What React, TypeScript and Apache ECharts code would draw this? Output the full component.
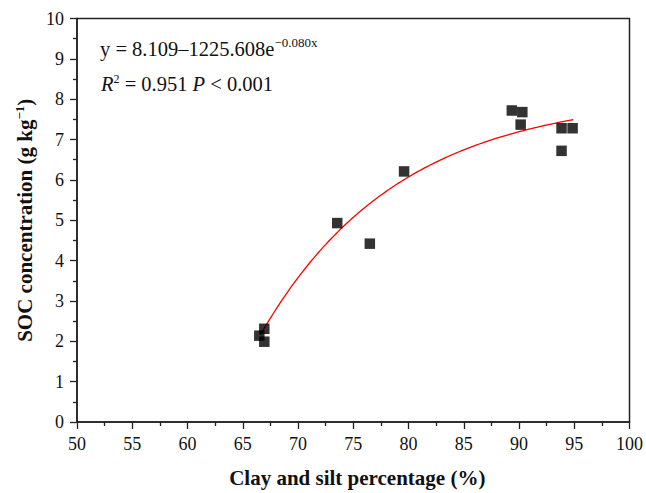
import React, { useEffect, useRef } from "react";
import * as echarts from "echarts";

const clayPct = [66.5, 66.95, 66.95, 73.55, 76.5, 79.6, 89.35, 90.3, 90.15, 93.85, 94.85, 93.85];
const socConc = [2.14, 2.31, 1.99, 4.93, 4.42, 6.21, 7.72, 7.68, 7.37, 7.28, 7.28, 6.72];

// fitted model shown on the chart: y = a - b * exp(c * x)
const fitA = 8.109;
const fitB = 1225.608;
const fitC = -0.08;
const fitXStart = 66.6;
const fitXEnd = 94.9;

const xTicks = [50, 55, 60, 65, 70, 75, 80, 85, 90, 95, 100];
const yTicks = [0, 1, 2, 3, 4, 5, 6, 7, 8, 9, 10];

const FONT = "Liberation Serif";

export default function App() {
  const ref = useRef<HTMLDivElement>(null);
  useEffect(() => {
    if (!ref.current) return;
    const chart = echarts.init(ref.current, null, { renderer: "svg" });
    const fitLine: number[][] = [];
    const steps = 120;
    for (let i = 0; i <= steps; i++) {
      const x = fitXStart + ((fitXEnd - fitXStart) * i) / steps;
      fitLine.push([x, fitA - fitB * Math.exp(fitC * x)]);
    }
    const axisColor = "#222";
    chart.setOption({
      animation: false,
      backgroundColor: "#fff",
      grid: {
        left: 77,
        right: 15,
        top: 18.5,
        bottom: 68,
        show: true,
        borderColor: axisColor,
        borderWidth: 1.5,
      },
      xAxis: {
        type: "value",
        min: xTicks[0],
        max: xTicks[xTicks.length - 1],
        interval: 5,
        name: "Clay and silt percentage (%)",
        nameLocation: "middle",
        nameGap: 45,
        nameTextStyle: { fontFamily: FONT, fontWeight: "bold", fontSize: 21, color: "#111", padding: [0, 0, 0, 8] },
        axisLine: { show: true, lineStyle: { color: axisColor, width: 1.5 } },
        axisTick: { show: true, inside: false, length: 7, lineStyle: { color: axisColor, width: 1.3 } },
        minorTick: { show: true, splitNumber: 2, length: 4, lineStyle: { color: axisColor, width: 1.3 } },
        axisLabel: { fontFamily: FONT, fontSize: 18, color: "#111", margin: 13 },
        splitLine: { show: false },
      },
      yAxis: {
        type: "value",
        min: yTicks[0],
        max: yTicks[yTicks.length - 1],
        interval: 1,
        name: "{t|SOC concentration (g kg}{s|−1}{t|)}",
        nameLocation: "middle",
        nameGap: 36,
        nameRotate: 90,
        nameTextStyle: {
          rich: {
            t: { fontFamily: FONT, fontWeight: "bold", fontSize: 21, color: "#111", verticalAlign: "bottom" },
            s: { fontFamily: FONT, fontWeight: "bold", fontSize: 13, color: "#111", verticalAlign: "bottom", padding: [0, 0, 9, 0] },
          },
        },
        axisLine: { show: true, lineStyle: { color: axisColor, width: 1.5 } },
        axisTick: { show: true, inside: false, length: 7, lineStyle: { color: axisColor, width: 1.3 } },
        minorTick: { show: true, splitNumber: 2, length: 4, lineStyle: { color: axisColor, width: 1.3 } },
        axisLabel: { fontFamily: FONT, fontSize: 18, color: "#111", margin: 13 },
        splitLine: { show: false },
      },
      graphic: [
        {
          type: "text",
          left: 100,
          top: 36,
          style: {
            text: "{a|y = 8.109–1225.608e}{s|−0.080x}",
            rich: {
              a: { fontFamily: FONT, fontSize: 20.5, fill: "#111", verticalAlign: "bottom" },
              s: { fontFamily: FONT, fontSize: 13, fill: "#111", verticalAlign: "bottom", padding: [0, 0, 10, 0] },
            },
          },
        },
        {
          type: "text",
          left: 101,
          top: 73,
          style: {
            text: "{i|R}{s|2}{a| = 0.951 }{i|P}{a| < 0.001}",
            rich: {
              a: { fontFamily: FONT, fontSize: 20.5, fill: "#111", verticalAlign: "bottom" },
              i: { fontFamily: FONT, fontSize: 20.5, fontStyle: "italic", fill: "#111", verticalAlign: "bottom" },
              s: { fontFamily: FONT, fontSize: 12, fill: "#111", verticalAlign: "bottom", padding: [0, 0, 9, 0] },
            },
          },
        },
      ],
      series: [
        {
          type: "line",
          data: fitLine,
          showSymbol: false,
          smooth: false,
          lineStyle: { color: "#ff0000", width: 1.3 },
          z: 3,
        },
        {
          type: "scatter",
          data: clayPct.map((x, i) => [x, socConc[i]]),
          symbol: "rect",
          symbolSize: 10.5,
          itemStyle: { color: "#000" },
          z: 4,
        },
      ],
    });
    return () => chart.dispose();
  }, []);
  return (
    <div
      ref={ref}
      style={{ position: "fixed", left: 0, top: 0, width: 646, height: 493 }}
    />
  );
}
